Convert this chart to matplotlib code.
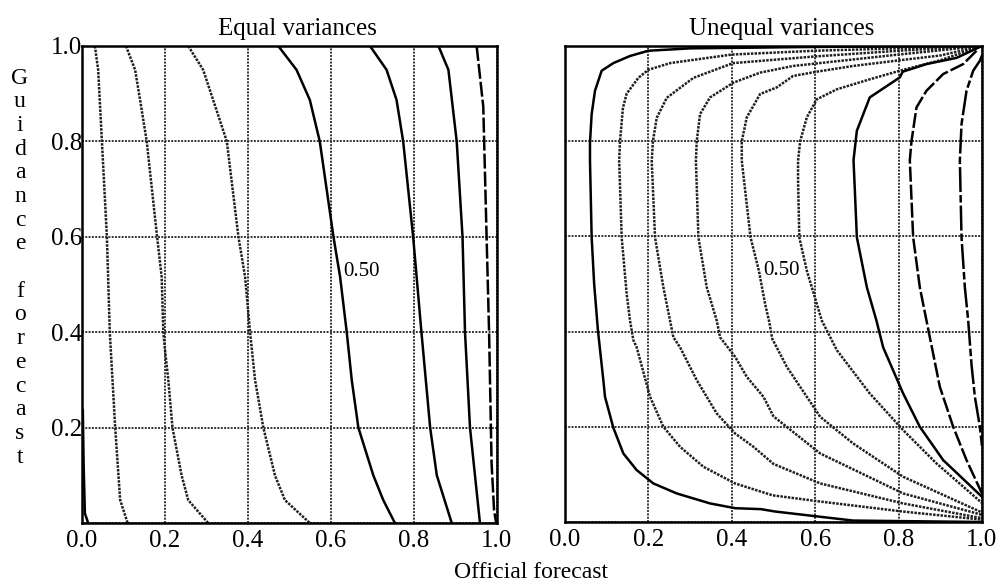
import matplotlib
matplotlib.use('Agg')
import matplotlib.pyplot as plt

plt.rcParams['font.family'] = ['Liberation Serif', 'DejaVu Serif']

ticks = [0.0, 0.2, 0.4, 0.6, 0.8, 1.0]
x_tick_labels = ['0.0', '0.2', '0.4', '0.6', '0.8', '1.0']
y_tick_labels = ['', '0.2', '0.4', '0.6', '0.8', '1.0']

# Equal variances: contours, left to right
eq_a_x = [0.002, 0.004, 0.007, 0.015]
eq_a_y = [0.237, 0.12, 0.02, 0.0]
eq_b_x = [0.031, 0.039, 0.048, 0.06, 0.067, 0.08, 0.092, 0.11]
eq_b_y = [1.0, 0.95, 0.8, 0.6, 0.4, 0.2, 0.048, 0.0]
eq_c_x = [0.106, 0.128, 0.14, 0.156, 0.181, 0.192, 0.196, 0.2, 0.208, 0.218, 0.24, 0.256, 0.304]
eq_c_y = [1.0, 0.95, 0.887, 0.8, 0.6, 0.516, 0.4, 0.363, 0.3, 0.2, 0.1, 0.048, 0.0]
eq_d_x = [0.256, 0.292, 0.316, 0.349, 0.377, 0.393, 0.405, 0.417, 0.437, 0.465, 0.489, 0.549]
eq_d_y = [1.0, 0.95, 0.887, 0.8, 0.6, 0.516, 0.4, 0.3, 0.2, 0.1, 0.048, 0.0]
eq_e_x = [0.473, 0.517, 0.549, 0.573, 0.606, 0.622, 0.638, 0.65, 0.666, 0.702, 0.726, 0.754]
eq_e_y = [1.0, 0.95, 0.887, 0.8, 0.6, 0.516, 0.4, 0.3, 0.2, 0.1, 0.048, 0.0]
eq_f_x = [0.694, 0.734, 0.758, 0.774, 0.798, 0.818, 0.839, 0.855, 0.891]
eq_f_y = [1.0, 0.95, 0.887, 0.8, 0.6, 0.4, 0.2, 0.1, 0.0]
eq_g_x = [0.859, 0.883, 0.903, 0.917, 0.923, 0.935, 0.947, 0.959]
eq_g_y = [1.0, 0.95, 0.8, 0.6, 0.4, 0.2, 0.1, 0.0]
eq_h_x = [0.951, 0.967, 0.975, 0.981, 0.987, 0.993, 0.998]
eq_h_y = [1.0, 0.873, 0.6, 0.4, 0.126, 0.027, 0.0]

# Unequal variances: contours, left to right
uneq_1_x = [1.0, 0.6, 0.3, 0.2, 0.156, 0.116, 0.088, 0.072, 0.064, 0.06, 0.06, 0.064, 0.07,
            0.079, 0.092, 0.096, 0.116, 0.14, 0.172, 0.212, 0.268, 0.348, 0.408, 0.47,
            0.504, 0.612, 0.691, 1.0]
uneq_1_y = [1.0, 0.998, 0.995, 0.99, 0.979, 0.964, 0.948, 0.906, 0.857, 0.797, 0.759, 0.598,
            0.5, 0.403, 0.298, 0.263, 0.198, 0.144, 0.109, 0.081, 0.06, 0.039, 0.029, 0.027,
            0.022, 0.011, 0.003, 0.0]
uneq_2_x = [1.0, 0.8, 0.6, 0.4, 0.252, 0.2, 0.176, 0.148, 0.139, 0.132, 0.13, 0.136, 0.148,
            0.156, 0.164, 0.172, 0.204, 0.236, 0.276, 0.332, 0.408, 0.498, 0.612, 0.81, 1.0]
uneq_2_y = [1.0, 0.995, 0.99, 0.982, 0.964, 0.95, 0.933, 0.9, 0.87, 0.8, 0.759, 0.598, 0.479,
            0.423, 0.382, 0.367, 0.263, 0.2, 0.158, 0.116, 0.081, 0.056, 0.043, 0.022, 0.005]
uneq_3_x = [1.0, 0.8, 0.6, 0.403, 0.308, 0.244, 0.22, 0.211, 0.208, 0.216, 0.236, 0.252, 0.26,
            0.276, 0.316, 0.364, 0.408, 0.452, 0.5, 0.612, 0.811, 1.0]
uneq_3_y = [1.0, 0.99, 0.978, 0.964, 0.933, 0.891, 0.849, 0.8, 0.759, 0.598, 0.493, 0.423,
            0.388, 0.367, 0.298, 0.228, 0.186, 0.158, 0.122, 0.081, 0.039, 0.008]
uneq_4_x = [1.0, 0.8, 0.6, 0.547, 0.468, 0.404, 0.348, 0.324, 0.316, 0.314, 0.32, 0.34, 0.364,
            0.372, 0.408, 0.436, 0.476, 0.5, 0.612, 0.811, 1.0]
uneq_4_y = [1.0, 0.982, 0.963, 0.958, 0.944, 0.923, 0.892, 0.857, 0.8, 0.759, 0.598, 0.493,
            0.423, 0.388, 0.347, 0.305, 0.263, 0.222, 0.144, 0.06, 0.015]
uneq_5_x = [1.0, 0.9, 0.803, 0.691, 0.604, 0.547, 0.508, 0.468, 0.436, 0.424, 0.424, 0.445,
            0.465, 0.48, 0.49, 0.497, 0.532, 0.612, 0.691, 0.811, 1.0]
uneq_5_y = [1.0, 0.98, 0.97, 0.958, 0.946, 0.937, 0.913, 0.899, 0.85, 0.8, 0.759, 0.598,
            0.528, 0.458, 0.42, 0.385, 0.326, 0.221, 0.165, 0.095, 0.02]
uneq_6_x = [1.0, 0.9, 0.803, 0.731, 0.652, 0.604, 0.58, 0.564, 0.559, 0.559, 0.562, 0.58,
            0.604, 0.616, 0.652, 0.731, 0.811, 0.891, 1.0]
uneq_6_y = [1.0, 0.97, 0.948, 0.93, 0.909, 0.888, 0.85, 0.8, 0.759, 0.717, 0.598, 0.528,
            0.458, 0.423, 0.361, 0.27, 0.193, 0.123, 0.04]
uneq_7_x = [0.995, 0.939, 0.867, 0.81, 0.803, 0.731, 0.7, 0.692, 0.695, 0.7, 0.724, 0.747,
            0.763, 0.811, 0.851, 0.907, 1.0]
uneq_7_y = [0.998, 0.975, 0.962, 0.946, 0.934, 0.892, 0.822, 0.76, 0.7, 0.598, 0.493, 0.423,
            0.367, 0.27, 0.2, 0.13, 0.053]
uneq_8_x = [0.987, 0.955, 0.907, 0.867, 0.843, 0.831, 0.827, 0.835, 0.851, 0.867, 0.875,
            0.899, 0.931, 0.963, 1.0]
uneq_8_y = [0.99, 0.962, 0.941, 0.906, 0.871, 0.8, 0.76, 0.598, 0.493, 0.423, 0.388, 0.284,
            0.2, 0.13, 0.06]
uneq_9_x = [1.0, 0.995, 0.979, 0.963, 0.951, 0.947, 0.951, 0.959, 0.967, 0.975, 0.983, 0.995, 1.0]
uneq_9_y = [0.98, 0.969, 0.948, 0.906, 0.836, 0.759, 0.598, 0.493, 0.423, 0.33, 0.263, 0.2, 0.16]

solid = dict(color='black', lw=1.8, solid_joinstyle='round')
dotted = dict(color='0.12', lw=1.8, linestyle=(0, (1, 0.5)))
dashed = dict(color='black', lw=1.8, linestyle=(0, (6, 1.2)))
dashdot = dict(color='black', lw=1.8, linestyle=(0, (10, 1.2, 3, 1.2)))

fig = plt.figure(figsize=(10.06, 5.85), dpi=100)
ax1 = fig.add_axes([0.0815, 0.106, 0.4125, 0.8154])
ax2 = fig.add_axes([0.5616, 0.1077, 0.4145, 0.8137])

ax1.plot(eq_a_x, eq_a_y, **solid)
ax1.plot(eq_b_x, eq_b_y, **dotted)
ax1.plot(eq_c_x, eq_c_y, **dotted)
ax1.plot(eq_d_x, eq_d_y, **dotted)
ax1.plot(eq_e_x, eq_e_y, **solid)
ax1.plot(eq_f_x, eq_f_y, **solid)
ax1.plot(eq_g_x, eq_g_y, **solid)
ax1.plot(eq_h_x, eq_h_y, **dashed)
ax1.text(0.63, 0.527, '0.50', fontsize=15, ha='left', va='center')

ax2.plot(uneq_1_x, uneq_1_y, **solid)
ax2.plot(uneq_2_x, uneq_2_y, **dotted)
ax2.plot(uneq_3_x, uneq_3_y, **dotted)
ax2.plot(uneq_4_x, uneq_4_y, **dotted)
ax2.plot(uneq_5_x, uneq_5_y, **dotted)
ax2.plot(uneq_6_x, uneq_6_y, **dotted)
ax2.plot(uneq_7_x, uneq_7_y, **solid)
ax2.plot(uneq_8_x, uneq_8_y, **dashed)
ax2.plot(uneq_9_x, uneq_9_y, **dashdot)
ax2.text(0.475, 0.528, '0.50', fontsize=15, ha='left', va='center')

for ax, title in [(ax1, 'Equal variances'), (ax2, 'Unequal variances')]:
    ax.set_xlim(0, 1)
    ax.set_ylim(0, 1)
    ax.set_xticks(ticks)
    ax.set_xticklabels(x_tick_labels)
    ax.set_yticks(ticks)
    ax.set_yticklabels(y_tick_labels)
    ax.set_axisbelow(True)
    ax.grid(True, color='0.2', lw=1.4, linestyle=(0, (1, 0.7)))
    ax.tick_params(length=0, labelsize=18)
    ax.tick_params(axis='x', pad=5)
    ax.tick_params(axis='y', pad=0)
    for sp in ax.spines.values():
        sp.set_linewidth(1.8)
    ax.set_title(title, fontsize=18, pad=8, x=0.52)

ax2.tick_params(labelleft=False)

# stacked y label, one letter per row
for i, ch in enumerate('Guidance forecast'):
    if ch != ' ':
        fig.text(20 / 1006, 1 - (78 + i * 23.7) / 585, ch, fontsize=17,
                 ha='center', va='center')

fig.text(531 / 1006, 1 - 573 / 585, 'Official forecast', fontsize=17,
         ha='center', va='center')

fig.savefig('out.png', dpi=100)
